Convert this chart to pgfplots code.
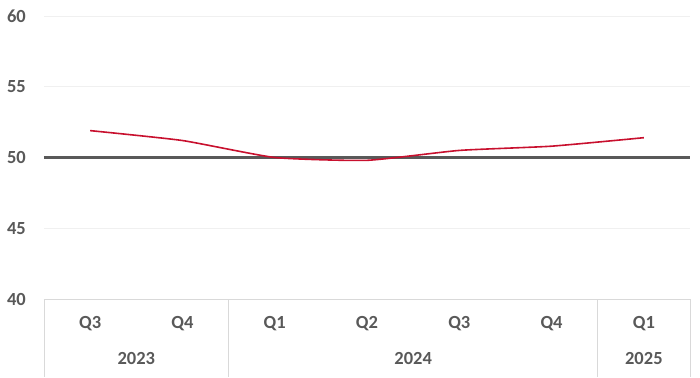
\documentclass[border=0pt]{standalone}
\usepackage{pgfplots}
\pgfplotsset{compat=1.18}
\usepackage{fontspec}
\setmainfont{Carlito}
\definecolor{txt}{HTML}{595959}
\definecolor{grd}{HTML}{F0F0F0}
\definecolor{sep}{HTML}{D9D9D9}
\definecolor{redl}{HTML}{C8102E}
\begin{document}
\begin{tikzpicture}
\begin{axis}[
  name=ax,
  scale only axis,
  width=646pt, height=283pt,
  xmin=-0.5, xmax=6.5, ymin=40, ymax=60,
  axis line style={draw=none},
  xtick={0,1,2,3,4,5,6},
  xticklabels={Q3,Q4,Q1,Q2,Q3,Q4,Q1},
  ytick={40,45,50,55,60},
  major tick length=0pt,
  ymajorgrids,
  grid style={color=grd, line width=0.8pt},
  /pgf/number format/assume math mode=true,
  tick label style={font=\fontsize{18.5}{20}\selectfont\bfseries, text=txt, inner sep=0pt},
  yticklabel style={anchor=east, xshift=-18pt},
  xticklabel style={anchor=center, yshift=-25pt},
  clip=false,
]
\draw[sep, line width=0.8pt] (axis cs:-0.5,40) -- (axis cs:6.5,40);
\draw[sep, line width=0.8pt] (axis cs:-0.5,40) -- ([yshift=-78pt]axis cs:-0.5,40);
\draw[sep, line width=0.8pt] (axis cs:1.5,40) -- ([yshift=-78pt]axis cs:1.5,40);
\draw[sep, line width=0.8pt] (axis cs:5.5,40) -- ([yshift=-78pt]axis cs:5.5,40);
\draw[sep, line width=0.8pt] (axis cs:6.5,40) -- ([yshift=-78pt]axis cs:6.5,40);
\addplot[txt, line width=2.6pt] coordinates {(-0.5,50) (6.5,50)};
\addplot[redl, line width=1.6pt, smooth, tension=0.3] coordinates {
 (0,51.9) (1,51.2) (2,50.0) (3,49.8) (4,50.5) (5,50.8) (6,51.4)};
\node[font=\fontsize{18.5}{20}\selectfont\bfseries, text=txt] at ([yshift=-59pt]axis cs:0.5,40) {2023};
\node[font=\fontsize{18.5}{20}\selectfont\bfseries, text=txt] at ([yshift=-59pt]axis cs:3.5,40) {2024};
\node[font=\fontsize{18.5}{20}\selectfont\bfseries, text=txt] at ([yshift=-59pt]axis cs:6,40) {2025};
\end{axis}
\pgfresetboundingbox
\path[use as bounding box] ([xshift=-44pt,yshift=-78pt]ax.south west) rectangle ([xshift=10pt,yshift=16pt]ax.north east);
\end{tikzpicture}
\end{document}
